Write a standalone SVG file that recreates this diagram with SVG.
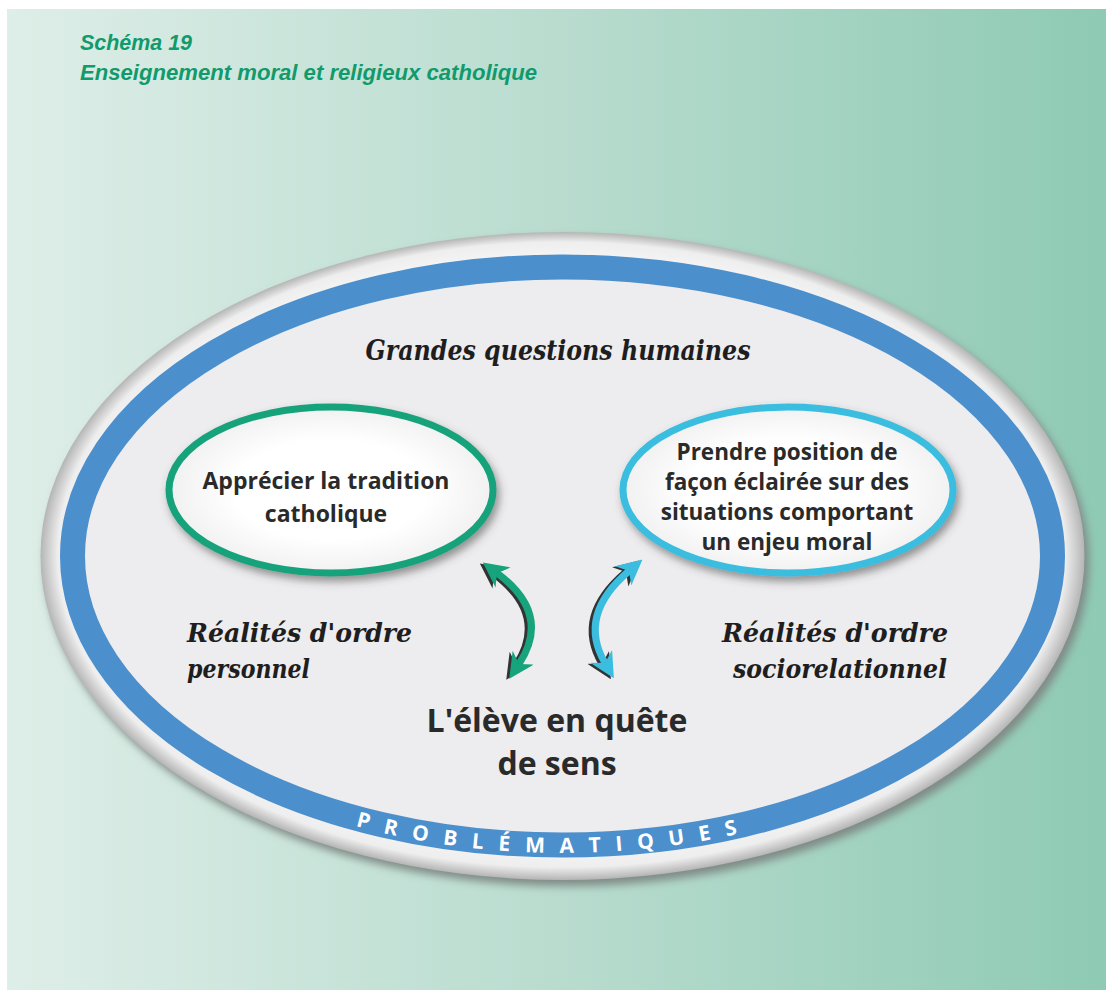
<svg xmlns="http://www.w3.org/2000/svg" width="1106" height="996" viewBox="0 0 1106 996">
<style>
.title{font-family:"Liberation Sans",Arial,sans-serif;font-weight:bold;font-style:italic;font-size:22px;fill:#119a6c}
.body{font-family:"Open Sans","Liberation Sans",sans-serif;font-weight:bold;fill:#2a2a2a;text-anchor:middle}
.script{font-family:"DejaVu Serif","Liberation Serif",serif;font-weight:bold;font-style:italic;fill:#1e1e1e}
.band{font-family:"Open Sans","Liberation Sans",sans-serif;font-weight:bold;font-size:21px;fill:#ffffff;letter-spacing:15px}
</style>
<defs>
<linearGradient id="bg" x1="0" y1="0" x2="1" y2="0">
<stop offset="0" stop-color="#deeee8"/>
<stop offset="0.5" stop-color="#b9dccf"/>
<stop offset="1" stop-color="#8ecab4"/>
</linearGradient>
<radialGradient id="rim" cx="0.5" cy="0.5" r="0.5" fx="0.47" fy="0.44">
<stop offset="0.9" stop-color="#f6f6f6"/>
<stop offset="0.965" stop-color="#eeeeee"/>
<stop offset="1" stop-color="#b5b5b5"/>
</radialGradient>
<radialGradient id="inner" cx="0.5" cy="0.5" r="0.5">
<stop offset="0.6" stop-color="#ffffff"/>
<stop offset="1" stop-color="#f1f1f1"/>
</radialGradient>
<filter id="blur" x="-10%" y="-10%" width="120%" height="120%"><feGaussianBlur stdDeviation="4"/></filter>
<filter id="sh" x="-20%" y="-20%" width="140%" height="150%"><feDropShadow dx="3" dy="5" stdDeviation="4" flood-color="#444" flood-opacity="0.55"/></filter>
<marker id="hg" viewBox="0 0 10 10" refX="3" refY="5" markerWidth="3.6" markerHeight="3.6" orient="auto-start-reverse"><path d="M0,0 L10,5 L0,10 L3,5 z" fill="#17a37b"/></marker>
<marker id="hc" viewBox="0 0 10 10" refX="3" refY="5" markerWidth="3.6" markerHeight="3.6" orient="auto-start-reverse"><path d="M0,0 L10,5 L0,10 L3,5 z" fill="#3bbde0"/></marker>
<marker id="hs" viewBox="0 0 10 10" refX="3" refY="5" markerWidth="3.6" markerHeight="3.6" orient="auto-start-reverse"><path d="M0,0 L10,5 L0,10 L3,5 z" fill="#333"/></marker>
<path id="arc" d="M 65.5,556 A 497,297 0 0 0 1059.5,556"/>
</defs>
<rect x="0" y="0" width="1106" height="996" fill="#ffffff"/>
<rect x="7" y="9" width="1099" height="981" fill="url(#bg)"/>
<g id="title">
<text class="title" x="80" y="50" textLength="112" lengthAdjust="spacingAndGlyphs">Schéma 19</text>
<text class="title" x="80" y="80" textLength="457" lengthAdjust="spacingAndGlyphs">Enseignement moral et religieux catholique</text>
</g>
<g id="frame">
<ellipse cx="567" cy="562" rx="522" ry="324" fill="#7f8a86" filter="url(#blur)"/>
<ellipse cx="562.5" cy="556" rx="522" ry="324" fill="url(#rim)"/>
<ellipse cx="562.5" cy="556" rx="490" ry="289" fill="#edecee" stroke="#4b8fcd" stroke-width="25"/>
<text class="band"><textPath href="#arc" startOffset="49.3%" text-anchor="middle">PROBLÉMATIQUES</textPath></text>
<text class="script" x="558" y="360" font-size="28" text-anchor="middle" textLength="385" lengthAdjust="spacingAndGlyphs">Grandes questions humaines</text>
</g>
<g id="node-tradition">
<ellipse cx="331" cy="490" rx="162" ry="83" fill="url(#inner)" stroke="#17a37b" stroke-width="7" filter="url(#sh)"/>
<text class="body" font-size="23" x="326" y="489">Apprécier la tradition</text>
<text class="body" font-size="23" x="326" y="522">catholique</text>
</g>
<g id="node-position">
<ellipse cx="788" cy="490" rx="165" ry="83" fill="url(#inner)" stroke="#3bbde0" stroke-width="7" filter="url(#sh)"/>
<text class="body" font-size="22.5" x="787" y="460">Prendre position de</text>
<text class="body" font-size="22.5" x="787" y="490">façon éclairée sur des</text>
<text class="body" font-size="22.5" x="787" y="520">situations comportant</text>
<text class="body" font-size="22.5" x="787" y="550">un enjeu moral</text>
</g>
<g id="node-personnel">
<text class="script" font-size="26" x="187" y="642" textLength="225" lengthAdjust="spacingAndGlyphs">Réalités d'ordre</text>
<text class="script" font-size="26" x="187" y="678" textLength="123" lengthAdjust="spacingAndGlyphs">personnel</text>
</g>
<g id="node-sociorelationnel">
<text class="script" font-size="26" x="722" y="642" textLength="226" lengthAdjust="spacingAndGlyphs">Réalités d'ordre</text>
<text class="script" font-size="26" x="733" y="678" textLength="214" lengthAdjust="spacingAndGlyphs">sociorelationnel</text>
</g>
<g id="node-eleve">
<text class="body" font-size="32" x="557" y="732">L'élève en quête</text>
<text class="body" font-size="32" x="557" y="775">de sens</text>
</g>
<g id="connectors" fill="none" stroke-width="7">
<path d="M494,574 Q549,615 516,665" stroke="#333" marker-start="url(#hs)" marker-end="url(#hs)"/>
<path d="M497,573 Q552,614 519,664" stroke="#17a37b" marker-start="url(#hg)" marker-end="url(#hg)"/>
<path d="M626,572 Q574,616 602,664" stroke="#333" marker-start="url(#hs)" marker-end="url(#hs)"/>
<path d="M629,571 Q577,615 605,663" stroke="#3bbde0" marker-start="url(#hc)" marker-end="url(#hc)"/>
</g>
</svg>
